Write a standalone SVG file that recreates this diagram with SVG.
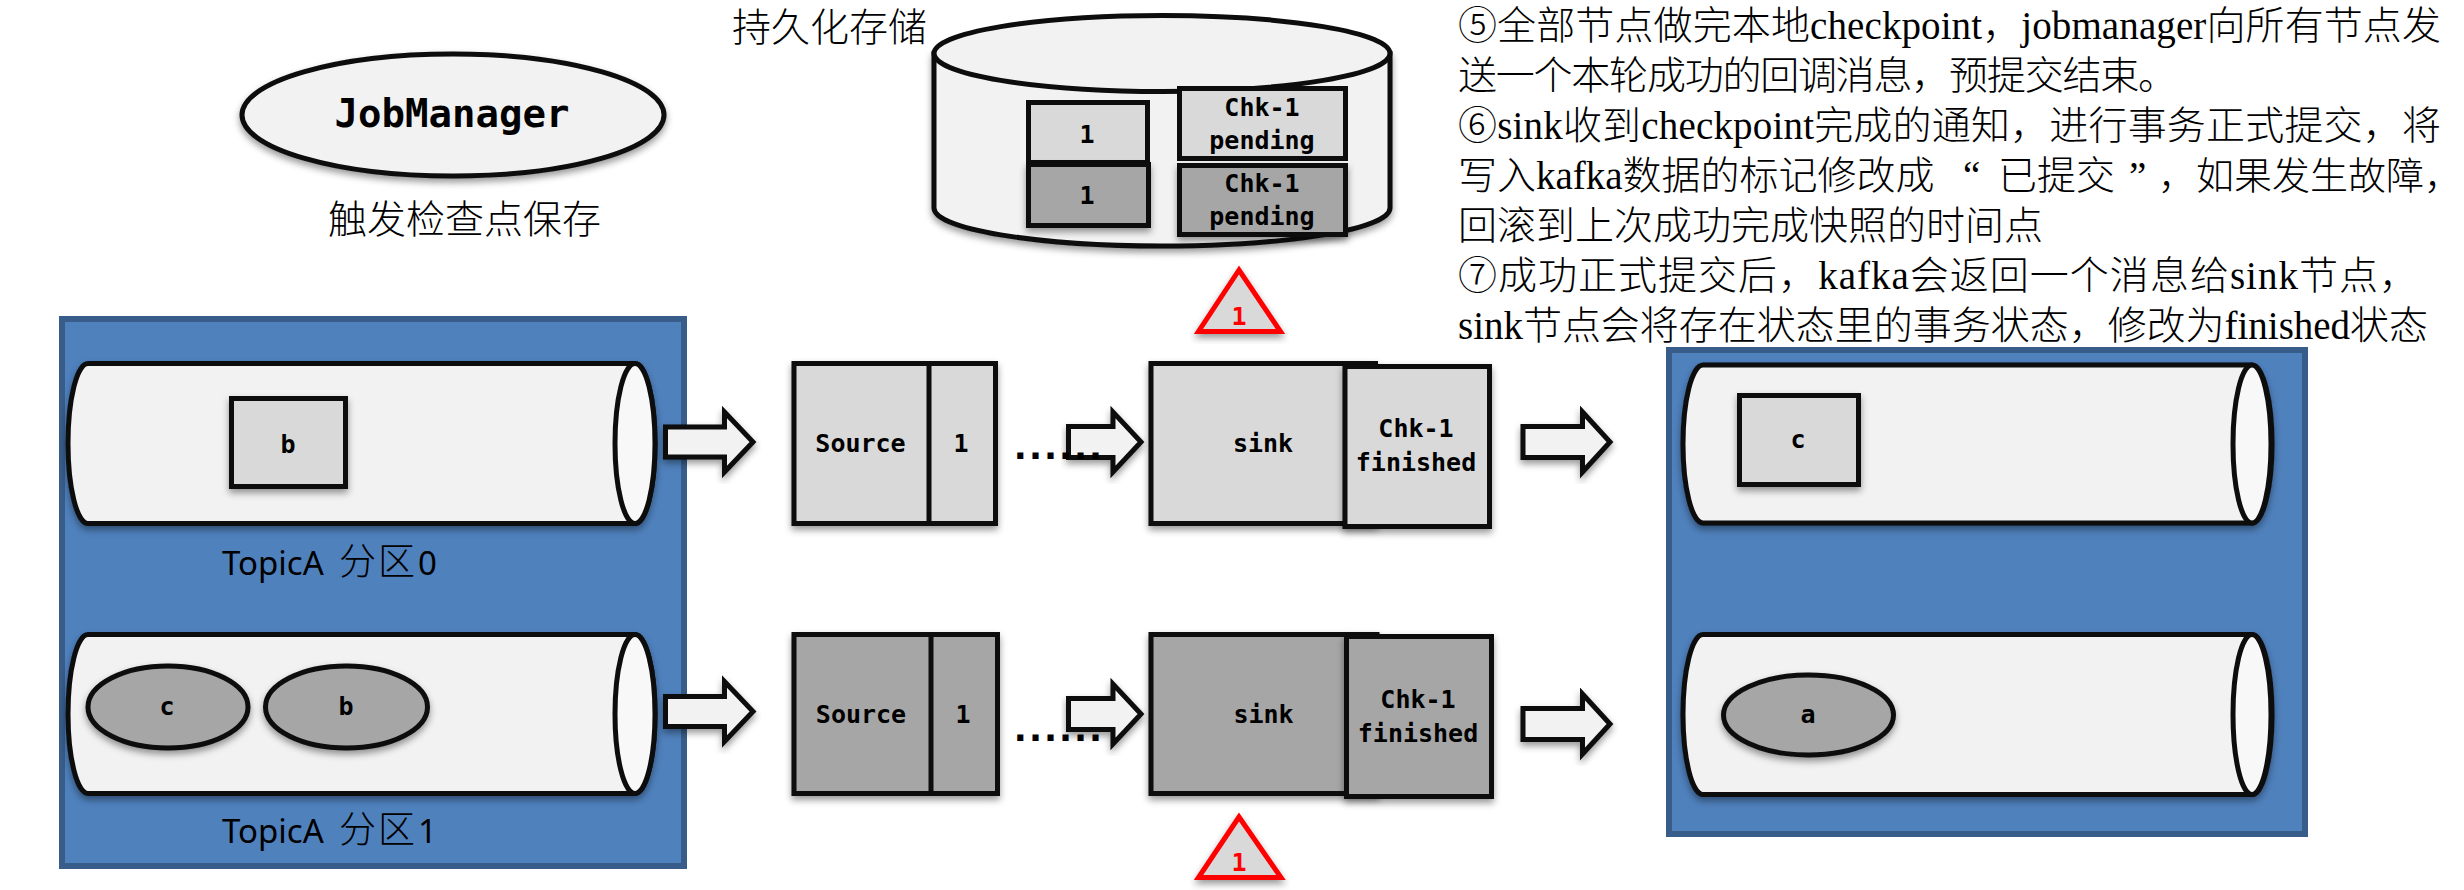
<svg xmlns="http://www.w3.org/2000/svg" width="2464" height="890" viewBox="0 0 2464 890">
<style>
.s{stroke:#0d0d0d;stroke-width:5;stroke-linejoin:miter}
.sh{filter:url(#shadow)}
.blue{fill:#4f81bd;stroke:#385d8a;stroke-width:6}
.cyl{fill:#f2f2f2}
.cap{fill:#f8f8f8}
.l{fill:#d9d9d9}
.d{fill:#a6a6a6}
.w{fill:#f2f2f2}
.m{font-family:"DejaVu Sans Mono","Liberation Mono",monospace;font-weight:700;font-size:25px;text-anchor:middle;fill:#000}
.jm{font-size:39px}
.r{fill:#ff0000}
.tri{stroke:#ff0000;stroke-width:5;fill:#d9d9d9;stroke-linejoin:miter}
.cjk{font-family:"Noto Sans CJK SC",sans-serif;font-size:39px;fill:#000;font-weight:300}
.topic{font-family:"Noto Sans","Noto Sans CJK SC",sans-serif;font-size:33px;fill:#000}
.topic .c{font-family:"Noto Sans CJK SC",sans-serif;font-size:37px;font-weight:300;letter-spacing:2px}
.para{font-family:"Liberation Serif","Noto Sans CJK SC",serif;font-size:39px;fill:#000;font-weight:300}
.dot{font-size:25px;stroke:#000;stroke-width:2}
</style>
<defs>
<filter id="shadow" x="-10%" y="-10%" width="120%" height="130%"><feDropShadow dx="0" dy="4" stdDeviation="3.5" flood-color="#000" flood-opacity="0.4"/></filter>
</defs>

<g id="jobmanager">
<ellipse class="s w sh" cx="453" cy="115" rx="211" ry="61"/>
<text class="m jm" x="452" y="127">JobManager</text>
<text class="cjk" x="328" y="233">触发检查点保存</text>
</g>

<g id="storage">
<text class="cjk" x="732" y="41">持久化存储</text>
<path class="s w sh" d="M934 53.500V208A228 38 0 0 0 1390 208V53.500Z"/>
<ellipse class="s w" cx="1162" cy="53.500" rx="228" ry="38"/>
<g id="state-1-light"><rect class="s l" x="1028.500" y="102.500" width="119" height="60"/><text class="m" x="1087" y="143">1</text></g>
<g id="state-1-dark"><rect class="s d sh" x="1028.500" y="164.500" width="120" height="61"/><text class="m" x="1087" y="204">1</text></g>
<g id="chk-pending-light"><rect class="s l" x="1179.500" y="88.500" width="166" height="70"/><text class="m" x="1262" y="116">Chk-1</text><text class="m" x="1262" y="149">pending</text></g>
<g id="chk-pending-dark"><rect class="s d sh" x="1179.500" y="165.500" width="166" height="69"/><text class="m" x="1262" y="192">Chk-1</text><text class="m" x="1262" y="225">pending</text></g>
</g>

<g id="triangle-top"><path class="tri sh" d="M1239 270L1198.500 331.500H1280.500Z"/><text class="m r" x="1239" y="325">1</text></g>

<g id="topic-a">
<rect class="blue" x="62" y="319" width="622" height="547"/>
<g id="partition-0">
<path class="s cyl sh" d="M88 363.500H635A20 80 0 0 1 635 523.500H88A20 80 0 0 1 88 363.500Z"/>
<ellipse class="s cap" cx="635" cy="443.500" rx="20" ry="80"/>
<g id="msg-b-0"><rect class="s l sh" x="231.500" y="398.500" width="114" height="88"/><text class="m" x="288" y="453">b</text></g>
<text class="topic" x="222" y="575">TopicA <tspan class="c" x="339">分区</tspan><tspan x="418">0</tspan></text>
</g>
<g id="partition-1">
<path class="s cyl sh" d="M88 634.500H635A20 79.500 0 0 1 635 793.500H88A20 79.500 0 0 1 88 634.500Z"/>
<ellipse class="s cap" cx="635" cy="714" rx="20" ry="79.500"/>
<g id="msg-c-1"><ellipse class="s d sh" cx="168" cy="707" rx="80" ry="41"/><text class="m" x="167" y="715">c</text></g>
<g id="msg-b-1"><ellipse class="s d sh" cx="346.500" cy="707" rx="81" ry="41"/><text class="m" x="346" y="715">b</text></g>
<text class="topic" x="222" y="843">TopicA <tspan class="c" x="339">分区</tspan><tspan x="418">1</tspan></text>
</g>
</g>

<g id="topic-b">
<rect class="blue" x="1669" y="350" width="636" height="484"/>
<g id="out-partition-0">
<path class="s cyl sh" d="M1703 365H2252A20 79 0 0 1 2252 523H1703A20 79 0 0 1 1703 365Z"/>
<ellipse class="s cap" cx="2252" cy="444" rx="19" ry="79"/>
<g id="msg-c-out"><rect class="s l sh" x="1739.500" y="395.500" width="119" height="89"/><text class="m" x="1798" y="448">c</text></g>
</g>
<g id="out-partition-1">
<path class="s cyl sh" d="M1703 634.500H2252A20 80 0 0 1 2252 794.500H1703A20 80 0 0 1 1703 634.500Z"/>
<ellipse class="s cap" cx="2252" cy="714.500" rx="19" ry="80"/>
<g id="msg-a-out"><ellipse class="s d sh" cx="1808.500" cy="715" rx="85" ry="40"/><text class="m" x="1808" y="723">a</text></g>
</g>
</g>

<g id="source-0"><rect class="s l sh" x="794" y="363.500" width="201.500" height="160"/><path class="s" d="M929 363.500V523.500"/><text class="m" x="860.500" y="452">Source</text><text class="m" x="961" y="452">1</text></g>
<g id="source-1"><rect class="s d sh" x="794" y="634.500" width="203.500" height="159"/><path class="s" d="M931 634.500V793.500"/><text class="m" x="861" y="722.500">Source</text><text class="m" x="963" y="722.500">1</text></g>

<g id="sink-0"><rect class="s l sh" x="1151" y="363.500" width="224.500" height="160"/><text class="m" x="1263" y="452">sink</text></g>
<g id="chk-finished-0"><rect class="s l sh" x="1345" y="366.500" width="144.500" height="160"/><text class="m" x="1416" y="437">Chk-1</text><text class="m" x="1416" y="471">finished</text></g>
<g id="sink-1"><rect class="s d sh" x="1151" y="634.500" width="226" height="159"/><text class="m" x="1263.500" y="722.500">sink</text></g>
<g id="chk-finished-1"><rect class="s d sh" x="1346.500" y="636.500" width="145" height="160"/><text class="m" x="1418" y="708">Chk-1</text><text class="m" x="1418" y="742">finished</text></g>

<g id="triangle-bottom"><path class="tri sh" d="M1239 817L1198.500 877.500H1281Z"/><text class="m r" x="1239" y="871">1</text></g>

<g id="connectors">
<path class="s w sh" d="M665.500 427H724.500V412L753 442L724.500 472V457H665.500Z"/>
<path class="s w sh" d="M665.500 696.500H724.500V681.500L753 711.500L724.500 741.500V726.500H665.500Z"/>
<path class="s w sh" d="M1068.500 426.500H1113V412L1141 442L1113 472V457.500H1068.500Z"/>
<path class="s w sh" d="M1068.500 698.500H1113V684L1141 714L1113 744V729.500H1068.500Z"/>
<path class="s w sh" d="M1523 426.500H1582.500V412L1610 442L1582.500 472V457.500H1523Z"/>
<path class="s w sh" d="M1523 708.500H1582.500V694L1610 724L1582.500 754V739.500H1523Z"/>
</g>

<g id="dots">
<text class="m dot" x="1058" y="458">......</text>
<text class="m dot" x="1058" y="740">......</text>
</g>

<g id="notes">
<text class="para" x="1458" y="39" textLength="983">⑤全部节点做完本地checkpoint，jobmanager向所有节点发</text>
<text class="para" x="1458" y="89" textLength="719">送一个本轮成功的回调消息，预提交结束。</text>
<text class="para" x="1458" y="139" textLength="983">⑥sink收到checkpoint完成的通知，进行事务正式提交，将</text>
<text class="para" x="1458" y="189">写入kafka数据的标记修改成<tspan x="1963">“</tspan><tspan x="1998">已提交</tspan><tspan x="2129">”</tspan><tspan x="2158" style="font-size:38px">，如果发生故障，</tspan></text>
<text class="para" x="1458" y="239">回滚到上次成功完成快照的时间点</text>
<text class="para" x="1458" y="289" textLength="960">⑦成功正式提交后，kafka会返回一个消息给sink节点，</text>
<text class="para" x="1458" y="339" textLength="970">sink节点会将存在状态里的事务状态，修改为finished状态</text>
</g>
</svg>
